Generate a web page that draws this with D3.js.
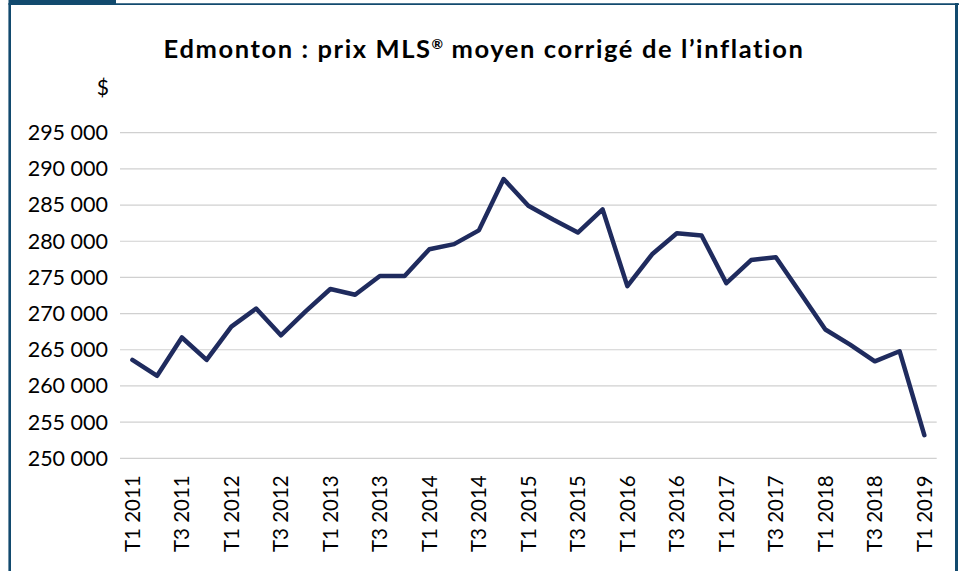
<!DOCTYPE html>
<html>
<head>
<meta charset="utf-8">
<script src="https://cdn.jsdelivr.net/npm/d3@7"></script>
<style>
  html, body { margin: 0; padding: 0; background: #fff; }
  svg { display: block; }
  text { font-family: Lato, "Open Sans", sans-serif; fill: #000; }
</style>
</head>
<body>
<svg id="chart" width="959" height="571"></svg>
<script>
const titleParts = ["Edmonton : prix MLS", "\u00AE", " moyen corrigé de l\u2019inflation"];
const unitLabel = "$";
const quarters = [
  "T1 2011","T2 2011","T3 2011","T4 2011",
  "T1 2012","T2 2012","T3 2012","T4 2012",
  "T1 2013","T2 2013","T3 2013","T4 2013",
  "T1 2014","T2 2014","T3 2014","T4 2014",
  "T1 2015","T2 2015","T3 2015","T4 2015",
  "T1 2016","T2 2016","T3 2016","T4 2016",
  "T1 2017","T2 2017","T3 2017","T4 2017",
  "T1 2018","T2 2018","T3 2018","T4 2018",
  "T1 2019"
];
const prices = [
  263600, 261400, 266700, 263600,
  268200, 270700, 267000, 270300,
  273400, 272600, 275200, 275200,
  278900, 279600, 281500, 288600,
  284900, 283000, 281200, 284400,
  273800, 278200, 281100, 280800,
  274200, 277400, 277800, 272800,
  267800, 265700, 263400, 264800,
  253200
];
const yTicks = [250000,255000,260000,265000,270000,275000,280000,285000,290000,295000];

const svg = d3.select("#chart");
const frameColor = "#124a6e";
const lineColor = "#1f2b5e";

// frame
svg.append("line").attr("x1", 9.7).attr("x2", 9.7).attr("y1", 3).attr("y2", 571)
  .attr("stroke", frameColor).attr("stroke-width", 2.6);
svg.append("line").attr("x1", 9).attr("x2", 959).attr("y1", 4.2).attr("y2", 4.2)
  .attr("stroke", frameColor).attr("stroke-width", 1.8);
svg.append("line").attr("x1", 956.5).attr("x2", 956.5).attr("y1", 3).attr("y2", 571)
  .attr("stroke", frameColor).attr("stroke-width", 3);
svg.append("rect").attr("x", 8.5).attr("y", 0).attr("width", 107.5).attr("height", 5)
  .attr("fill", frameColor);

const mLeft = 120, mRight = 936.7, mTop = 132.7, mBottom = 458.3;

const x = d3.scaleBand().domain(quarters).range([mLeft, mRight]);
const y = d3.scaleLinear().domain([250000, 295000]).range([mBottom, mTop]);

const fmt = v => d3.format(",")(v).replace(/,/g, " ");

// gridlines
svg.append("g").selectAll("line").data(yTicks).join("line")
  .attr("x1", mLeft).attr("x2", mRight)
  .attr("y1", d => y(d)).attr("y2", d => y(d))
  .attr("stroke", "#d0d0d0").attr("stroke-width", 1.2);

// y axis labels
const yAxis = d3.axisLeft(y).tickValues(yTicks).tickSize(0).tickPadding(0).tickFormat(fmt);
const yg = svg.append("g").attr("transform", `translate(108,0)`).call(yAxis);
yg.select(".domain").remove();
yg.selectAll("text").attr("font-size", 21.5).attr("font-family", "Lato, sans-serif").attr("fill", "#000");

// x axis labels (every other quarter)
const xAxis = d3.axisBottom(x).tickValues(quarters.filter((d, i) => i % 2 === 0)).tickSize(0).tickPadding(0);
const xg = svg.append("g").attr("transform", `translate(0,${mBottom})`).call(xAxis);
xg.select(".domain").remove();
xg.selectAll("text")
  .attr("font-size", 20.5).attr("font-family", "Lato, sans-serif").attr("fill", "#000")
  .attr("text-anchor", "end")
  .attr("dy", "0.35em")
  .attr("transform", "translate(0,17) rotate(-90)")
  .attr("x", 0).attr("y", 0);

// line
const line = d3.line().x((d, i) => x(quarters[i]) + x.bandwidth() / 2).y(d => y(d));
svg.append("path").datum(prices)
  .attr("d", line)
  .attr("fill", "none")
  .attr("stroke", lineColor)
  .attr("stroke-width", 4.5)
  .attr("stroke-linejoin", "round")
  .attr("stroke-linecap", "round");

// title
const t = svg.append("text").attr("x", 484).attr("y", 58).attr("text-anchor", "middle")
  .attr("font-size", 25.5).attr("font-weight", "bold")
  .attr("letter-spacing", 1.6);
t.append("tspan").text(titleParts[0]);
t.append("tspan").attr("font-size", 14).attr("dy", -9).attr("letter-spacing", 0.5).text(titleParts[1]);
t.append("tspan").attr("dy", 9).text(titleParts[2]);

svg.append("text").attr("x", 109).attr("y", 95).attr("text-anchor", "end")
  .attr("font-size", 21).text(unitLabel);
</script>
</body>
</html>
